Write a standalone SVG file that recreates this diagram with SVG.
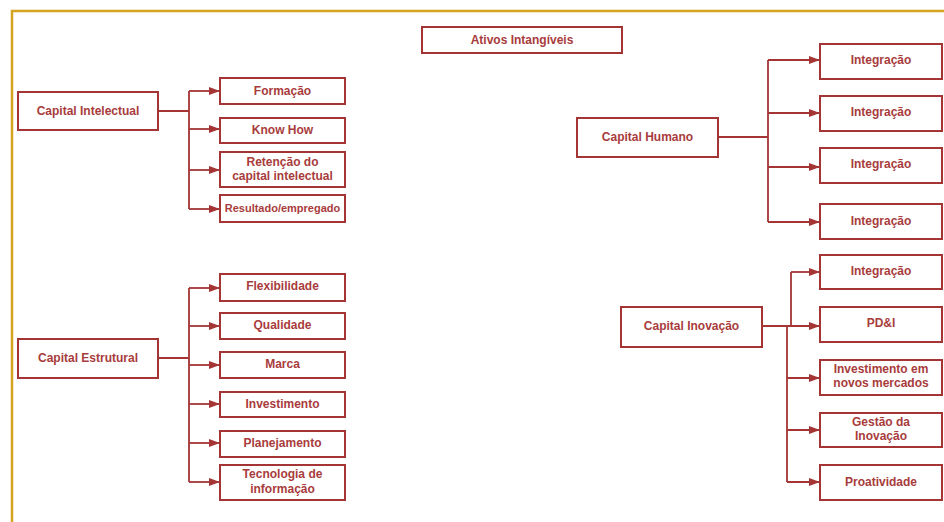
<svg xmlns="http://www.w3.org/2000/svg" width="944" height="522" viewBox="0 0 944 522">
<defs>
<marker id="ah" markerUnits="userSpaceOnUse" markerWidth="12" markerHeight="10" refX="11" refY="4" orient="auto">
<path d="M0,0 L11,4 L0,8 Z" fill="#a53535"/>
</marker>
<style>
.b{fill:#fff;stroke:#a53535;stroke-width:2}
.t{font-family:"Liberation Sans",Arial,sans-serif;font-size:12px;font-weight:bold;fill:#a83c3c;text-anchor:middle}
.s{font-size:11px}
.c{fill:none;stroke:#a53535;stroke-width:1.8}
.a{marker-end:url(#ah)}
</style>
</defs>
<rect width="944" height="522" fill="#fff"/>
<path d="M12,522 V11 H944" fill="none" stroke="#d4a320" stroke-width="2.5"/>

<g id="connectors">
<path class="c" d="M158,111 H189 M189,91 V209"/>
<path class="c a" d="M189,91 H220"/>
<path class="c a" d="M189,129 H220"/>
<path class="c a" d="M189,170 H220"/>
<path class="c a" d="M189,209 H220"/>

<path class="c" d="M158,358 H189 M189,288 V482"/>
<path class="c a" d="M189,288 H220"/>
<path class="c a" d="M189,326 H220"/>
<path class="c a" d="M189,365 H220"/>
<path class="c a" d="M189,404 H220"/>
<path class="c a" d="M189,443 H220"/>
<path class="c a" d="M189,482 H220"/>

<path class="c" d="M718,137 H768 M768,60 V222"/>
<path class="c a" d="M768,60 H820"/>
<path class="c a" d="M768,113 H820"/>
<path class="c a" d="M768,167 H820"/>
<path class="c a" d="M768,222 H820"/>

<path class="c" d="M791,326 V272 M787,326 V482"/>
<path class="c a" d="M791,272 H820"/>
<path class="c a" d="M762,326 H820"/>
<path class="c a" d="M787,378 H820"/>
<path class="c a" d="M787,430 H820"/>
<path class="c a" d="M787,482 H820"/>
</g>

<g id="ativos"><rect class="b" x="422" y="27" width="200" height="26"/><text class="t" x="522" y="44">Ativos Intangíveis</text></g>

<g id="capital-intelectual"><rect class="b" x="18" y="92" width="140" height="38"/><text class="t" x="88" y="115">Capital Intelectual</text></g>
<g id="formacao"><rect class="b" x="220" y="78" width="125" height="26"/><text class="t" x="282.5" y="95">Formação</text></g>
<g id="know-how"><rect class="b" x="220" y="118" width="125" height="25"/><text class="t" x="282.5" y="134">Know How</text></g>
<g id="retencao"><rect class="b" x="220" y="152" width="125" height="35"/><text class="t" x="282.5" y="166">Retenção do</text><text class="t" x="282.5" y="180">capital intelectual</text></g>
<g id="resultado"><rect class="b" x="220" y="195" width="125" height="27"/><text class="t s" x="282.5" y="212">Resultado/empregado</text></g>

<g id="capital-estrutural"><rect class="b" x="18" y="339" width="140" height="39"/><text class="t" x="88" y="362">Capital Estrutural</text></g>
<g id="flexibilidade"><rect class="b" x="220" y="274" width="125" height="27"/><text class="t" x="282.5" y="290">Flexibilidade</text></g>
<g id="qualidade"><rect class="b" x="220" y="313" width="125" height="26"/><text class="t" x="282.5" y="329">Qualidade</text></g>
<g id="marca"><rect class="b" x="220" y="352" width="125" height="26"/><text class="t" x="282.5" y="368">Marca</text></g>
<g id="investimento"><rect class="b" x="220" y="392" width="125" height="25"/><text class="t" x="282.5" y="408">Investimento</text></g>
<g id="planejamento"><rect class="b" x="220" y="431" width="125" height="26"/><text class="t" x="282.5" y="447">Planejamento</text></g>
<g id="tecnologia"><rect class="b" x="220" y="465" width="125" height="35"/><text class="t" x="282.5" y="478">Tecnologia de</text><text class="t" x="282.5" y="493">informação</text></g>

<g id="capital-humano"><rect class="b" x="577" y="118" width="141" height="39"/><text class="t" x="647.5" y="141">Capital Humano</text></g>
<g id="integracao-1"><rect class="b" x="820" y="44" width="122" height="35"/><text class="t" x="881" y="64">Integração</text></g>
<g id="integracao-2"><rect class="b" x="820" y="96" width="122" height="35"/><text class="t" x="881" y="116">Integração</text></g>
<g id="integracao-3"><rect class="b" x="820" y="148" width="122" height="35"/><text class="t" x="881" y="168">Integração</text></g>
<g id="integracao-4"><rect class="b" x="820" y="204" width="122" height="35"/><text class="t" x="881" y="225">Integração</text></g>

<g id="capital-inovacao"><rect class="b" x="621" y="307" width="141" height="40"/><text class="t" x="691.5" y="330">Capital Inovação</text></g>
<g id="integracao-5"><rect class="b" x="820" y="255" width="122" height="34"/><text class="t" x="881" y="275">Integração</text></g>
<g id="pdi"><rect class="b" x="820" y="307" width="122" height="35"/><text class="t" x="881" y="327">PD&amp;I</text></g>
<g id="novos-mercados"><rect class="b" x="820" y="360" width="122" height="35"/><text class="t" x="881" y="373">Investimento em</text><text class="t" x="881" y="387">novos mercados</text></g>
<g id="gestao"><rect class="b" x="820" y="413" width="122" height="34"/><text class="t" x="881" y="426">Gestão da</text><text class="t" x="881" y="440">Inovação</text></g>
<g id="proatividade"><rect class="b" x="820" y="465" width="122" height="35"/><text class="t" x="881" y="486">Proatividade</text></g>
</svg>
